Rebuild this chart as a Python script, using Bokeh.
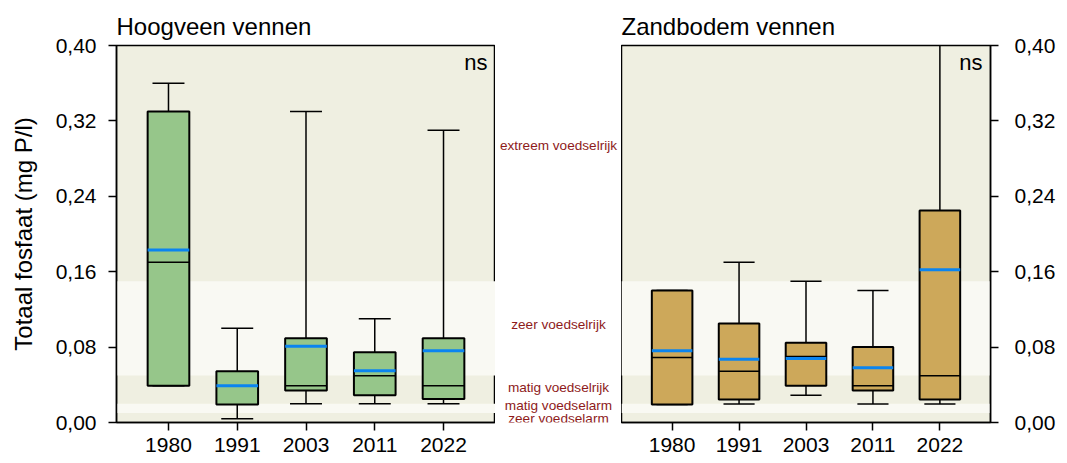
from bokeh.plotting import figure
from bokeh.layouts import row
from bokeh.core.properties import value
from bokeh.models import (Range1d, FixedTicker, CustomJSTickFormatter, BoxAnnotation,
                          Label, LabelSet, ColumnDataSource)
from bokeh.embed import file_html
from bokeh.resources import INLINE

# ---------------- data ----------------
years = ["1980", "1991", "2003", "2011", "2022"]

hoog_lower = [0.039, 0.004, 0.020, 0.020, 0.020]
hoog_q1 = [0.039, 0.019, 0.034, 0.029, 0.025]
hoog_median = [0.170, 0.039, 0.039, 0.0495, 0.039]
hoog_mean = [0.183, 0.039, 0.081, 0.055, 0.076]
hoog_q3 = [0.330, 0.0545, 0.0895, 0.0745, 0.0895]
hoog_upper = [0.360, 0.100, 0.330, 0.110, 0.310]

zand_lower = [0.019, 0.0195, 0.029, 0.0195, 0.0195]
zand_q1 = [0.019, 0.0245, 0.039, 0.034, 0.0245]
zand_median = [0.069, 0.0545, 0.070, 0.039, 0.0495]
zand_mean = [0.076, 0.067, 0.068, 0.058, 0.162]
zand_q3 = [0.140, 0.105, 0.0845, 0.080, 0.225]
zand_upper = [0.140, 0.170, 0.150, 0.140, 0.520]

y_ticks = [0.00, 0.08, 0.16, 0.24, 0.32, 0.40]

# trophic classes (lower edges) and their labels
class_edges = [0.00, 0.01, 0.02, 0.05, 0.15, 0.40]
class_names = ["zeer voedselarm", "matig voedselarm", "matig voedselrijk",
               "zeer voedselrijk", "extreem voedselrijk"]
class_label_y = [0.0045, 0.018, 0.037, 0.104, 0.294]

# ---------------- style ----------------
FONT = "Liberation Sans"
DARK_BAND = "#EFEFE1"
LIGHT_BAND = "#F9F9F3"
GREEN = "#96C68A"
TAN = "#CDA85A"
BLUE = "#0A84F0"
RED = "#8E1B1B"

H = 461
TOP, BOTTOM = 45, 39
FRAME_W = 379
LEFT_B, MID_W, RIGHT_B = 116, 126, 58
BOX_W = 0.606
CAP_W = 0.465

pos = list(range(1, len(years) + 1))
y_range = Range1d(0, 0.40)
x_range = Range1d(pos[0] - 0.756, pos[-1] + 0.756)


def make_panel(title, lower, q1, med, mean, q3, upper, color, side):
    if side == "left":
        w = LEFT_B + FRAME_W
        mbl, mbr = LEFT_B, 0
    else:
        w = FRAME_W + RIGHT_B
        mbl, mbr = 0, RIGHT_B
    p = figure(width=w, height=H, x_range=x_range, y_range=y_range,
               output_backend="svg", toolbar_location=None,
               y_axis_location=side, min_border_left=mbl, min_border_right=mbr,
               min_border_top=TOP, min_border_bottom=BOTTOM)
    p.background_fill_color = DARK_BAND
    p.border_fill_color = "white"
    p.outline_line_color = "black"
    p.outline_line_width = 1.5
    p.grid.visible = False

    # light bands
    for i in (1, 3):
        p.add_layout(BoxAnnotation(bottom=class_edges[i], top=class_edges[i + 1],
                                   fill_color=LIGHT_BAND, fill_alpha=1.0,
                                   line_alpha=0, level="underlay"))

    src = ColumnDataSource(dict(
        x=pos, lower=lower, q1=q1, med=med, mean=mean, q3=q3, upper=upper,
        bx0=[x - BOX_W / 2 for x in pos], bx1=[x + BOX_W / 2 for x in pos],
        cx0=[x - CAP_W / 2 for x in pos], cx1=[x + CAP_W / 2 for x in pos],
    ))
    # whiskers
    p.segment("x", "q3", "x", "upper", source=src, line_color="black", line_width=1.5)
    p.segment("x", "q1", "x", "lower", source=src, line_color="black", line_width=1.5)
    p.segment("cx0", "upper", "cx1", "upper", source=src, line_color="black", line_width=1.5)
    p.segment("cx0", "lower", "cx1", "lower", source=src, line_color="black", line_width=1.5)
    # boxes
    p.vbar(x="x", width=BOX_W, bottom="q1", top="q3", source=src,
           fill_color=color, line_color="black", line_width=2)
    # median and mean
    p.segment("bx0", "med", "bx1", "med", source=src, line_color="black", line_width=1.5)
    p.segment("bx0", "mean", "bx1", "mean", source=src, line_color=BLUE, line_width=3)

    p.title.text = title
    p.title.text_font = FONT
    p.title.text_font_size = "24px"
    p.title.text_font_style = "normal"
    p.title.text_color = "black"
    p.title.align = "left"
    p.title.offset = 0
    p.title.standoff = 12

    p.add_layout(Label(x=x_range.end, y=y_range.end, x_offset=-8, y_offset=-4,
                       text="ns", text_align="right", text_baseline="top",
                       text_font=FONT, text_font_size="22px", text_color="black"))

    for ax in (p.xaxis[0], p.yaxis[0]):
        ax.axis_line_color = "black"
        ax.axis_line_width = 1.5
        ax.major_tick_line_color = "black"
        ax.major_tick_line_width = 1.5
        ax.major_tick_in = 0
        ax.major_tick_out = 8
        ax.minor_tick_line_color = None
        ax.major_label_text_font = FONT
        ax.major_label_text_color = "black"

    p.xaxis.ticker = FixedTicker(ticks=pos)
    p.xaxis.major_label_overrides = {x: y for x, y in zip(pos, years)}
    p.xaxis.major_label_text_font_size = "21px"
    p.xaxis.major_label_standoff = 7

    p.yaxis.ticker = FixedTicker(ticks=y_ticks)
    p.yaxis.formatter = CustomJSTickFormatter(code="return tick.toFixed(2).replace('.', ',');")
    p.yaxis.major_label_text_font_size = "21px"
    p.yaxis.major_label_standoff = 12
    return p


left = make_panel("Hoogveen vennen", hoog_lower, hoog_q1, hoog_median, hoog_mean,
                  hoog_q3, hoog_upper, GREEN, "left")
left.yaxis.axis_label = "Totaal fosfaat (mg P/l)"
left.yaxis.axis_label_text_font = FONT
left.yaxis.axis_label_text_font_size = "24px"
left.yaxis.axis_label_text_font_style = "normal"
left.yaxis.axis_label_text_color = "black"
left.yaxis.axis_label_standoff = 16

right = make_panel("Zandbodem vennen", zand_lower, zand_q1, zand_median, zand_mean,
                   zand_q3, zand_upper, TAN, "right")
right.yaxis.major_label_standoff = 16

mid = figure(width=MID_W, height=H, x_range=Range1d(0, 1), y_range=y_range,
             output_backend="svg", toolbar_location=None,
             x_axis_location=None, y_axis_location=None,
             min_border_left=0, min_border_right=0,
             min_border_top=TOP, min_border_bottom=BOTTOM)
mid.outline_line_color = None
mid.grid.visible = False
mid.background_fill_color = "white"
mid.border_fill_color = "white"
lab_src = ColumnDataSource(dict(x=[0.5] * len(class_names), y=class_label_y, text=class_names))
mid.add_layout(LabelSet(x="x", y="y", text="text", source=lab_src,
                        text_align="center", text_baseline="middle",
                        text_font=value(FONT), text_font_size=value("13.6px"),
                        text_color=RED))

layout = row(left, mid, right)
open("out.html", "w").write(file_html(layout, INLINE))
